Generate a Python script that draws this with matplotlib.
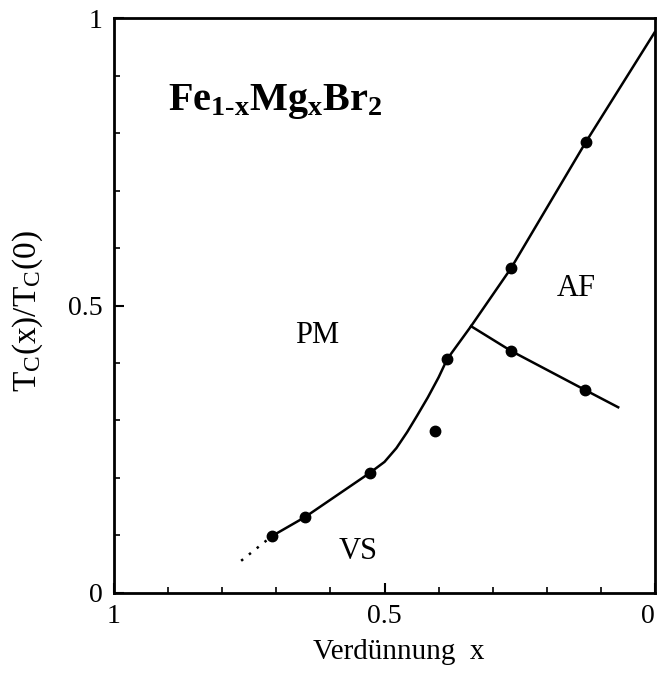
import matplotlib
matplotlib.use("Agg")
import matplotlib.pyplot as plt
from matplotlib.ticker import MultipleLocator

plt.rcParams['font.family'] = ['Liberation Serif', 'DejaVu Serif']
plt.rcParams['mathtext.fontset'] = 'custom'
plt.rcParams['mathtext.rm'] = 'Liberation Serif'
plt.rcParams['mathtext.it'] = 'Liberation Serif'
plt.rcParams['mathtext.bf'] = 'Liberation Serif:bold'

# measured points
x_points = [0.708, 0.647, 0.527, 0.407, 0.384, 0.266, 0.128, 0.266, 0.129]
y_points = [0.099, 0.132, 0.209, 0.282, 0.407, 0.565, 0.784, 0.421, 0.353]

# phase boundary PM / (VS, AF)
x_main = [0.708, 0.647, 0.527, 0.500, 0.478, 0.458, 0.440, 0.420, 0.400, 0.384, 0.340, 0.266, 0.128, 0.0]
y_main = [0.099, 0.132, 0.209, 0.228, 0.252, 0.280, 0.308, 0.340, 0.375, 0.407, 0.464, 0.565, 0.784, 0.976]

# dotted extension
x_dot = [0.765, 0.708]
y_dot = [0.056, 0.099]

# AF / VS boundary
x_branch = [0.340, 0.266, 0.129, 0.068]
y_branch = [0.464, 0.421, 0.353, 0.323]

fig = plt.figure(figsize=(6.58, 6.75), dpi=100)
ax = fig.add_axes([0.1733, 0.1215, 0.8221, 0.8518])

ax.plot(x_main, y_main, color='black', lw=1.8, solid_capstyle='round')
ax.plot(x_dot, y_dot, color='black', lw=1.8, linestyle=(0, (1, 3)))
ax.plot(x_branch, y_branch, color='black', lw=1.8)
ax.plot(x_points, y_points, 'o', color='black', markersize=7.5)

ax.set_xlim(1, 0)
ax.set_ylim(0, 1)
ax.xaxis.set_minor_locator(MultipleLocator(0.1))
ax.yaxis.set_minor_locator(MultipleLocator(0.1))
ax.set_xticks([1, 0.5, 0])
ax.set_xticklabels(['1', '0.5', '0'])
ax.set_yticks([0, 0.5, 1])
ax.set_yticklabels(['0', '0.5', '1'])
ax.tick_params(which='major', direction='in', length=7, width=1.5, labelsize=20, pad=8)
ax.tick_params(which='minor', direction='in', length=4, width=1.2)
xt = ax.get_xticklabels()
xt[-1].set_horizontalalignment('right')
for s in ax.spines.values():
    s.set_linewidth(2)

ax.set_xlabel('Verdünnung  x', fontsize=21)
ax.xaxis.set_label_coords(0.527, -0.08)
ax.set_ylabel(r'T$_\mathrm{C}$(x)/T$_\mathrm{C}$(0)', fontsize=24)
ax.yaxis.set_label_coords(-0.128, 0.49)

ax.text(0.9, 0.855, r'$\mathbf{Fe_{1\text{-}x}Mg_xBr_2}$', fontsize=29, ha='left', va='center')
ax.text(0.625, 0.448, 'PM', fontsize=22, ha='center', va='center')
ax.text(0.145, 0.53, 'AF', fontsize=22, ha='center', va='center')
ax.text(0.548, 0.072, 'VS', fontsize=22, ha='center', va='center')

fig.savefig('out.png', dpi=100)
